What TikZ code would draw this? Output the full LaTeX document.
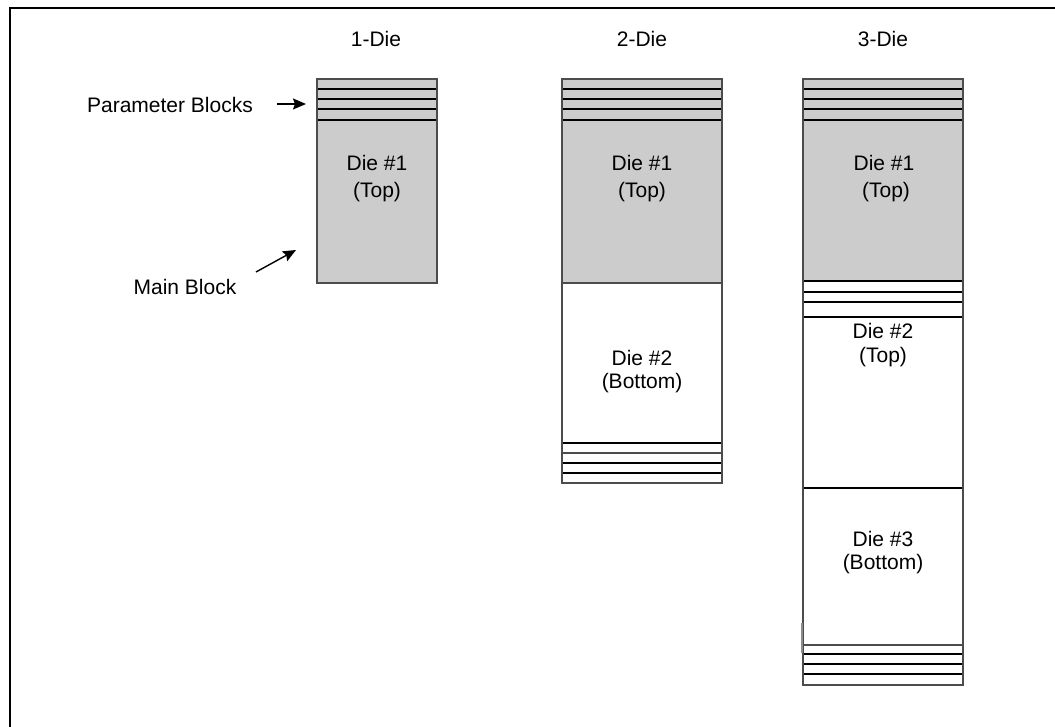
\documentclass[tikz,border=0pt]{standalone}
\usepackage{fontspec}
\setmainfont{Liberation Sans}
\usetikzlibrary{arrows.meta}
\begin{document}
\begin{tikzpicture}[x=1pt,y=-1pt,
  lbl/.style={font=\fontsize{21}{25}\selectfont, inner sep=0pt, anchor=center},
  outline/.style={draw=black!70, line width=1.3pt},
  stripe/.style={draw=black, line width=1.1pt},
  gfill/.style={fill=black!20},
  ptr/.style={-{Stealth[length=13pt,width=11pt,inset=2pt]}, line width=1.4pt}]
\useasboundingbox (0,0) rectangle (1055,727);
% frame (top and left only)
\draw[line width=2.5pt] (1055,8) -- (10,8) -- (10,727);

% ---------- 1-Die ----------
\node[lbl] (t1) at (376,39) {1-Die};
\path[gfill] (317,79) rectangle (437,283);
\foreach \y in {89,99,109,120} \draw[stripe] (317,\y) -- (437,\y);
\draw[outline] (317,79) rectangle (437,283);
\node[lbl] (d1a) at (377,163) {Die \#1};
\node[lbl] (d1b) at (377,192) {(Top)};

% labels with arrows
\node[lbl] (pb) at (170,105) {Parameter Blocks};
\coordinate (pbtail) at (277,104);
\coordinate (pbtip) at (306,104);
\draw[ptr] (pbtail) -- (pbtip);
\node[lbl] (mb) at (185,287) {Main Block};
\coordinate (mbtail) at (256,272);
\coordinate (mbtip) at (296,250);
\draw[ptr] (mbtail) -- (mbtip);

% ---------- 2-Die ----------
\node[lbl] (t2) at (642,39) {2-Die};
\path[gfill] (562,79) rectangle (722,283);
\foreach \y in {89,99,109,120} \draw[stripe] (562,\y) -- (722,\y);
\foreach \y in {443,463,473} \draw[stripe] (562,\y) -- (722,\y);
\draw[outline] (562,453) -- (722,453);
\draw[outline] (562,283) -- (722,283);
\draw[outline] (562,79) rectangle (722,483);
\node[lbl] (e1a) at (642,163) {Die \#1};
\node[lbl] (e1b) at (642,192) {(Top)};
\node[lbl] (e2a) at (642,358) {Die \#2};
\node[lbl] (e2b) at (642,383) {(Bottom)};

% ---------- 3-Die ----------
\node[lbl] (t3) at (883,39) {3-Die};
\path[gfill] (803,79) rectangle (963,281);
\foreach \y in {89,99,109,120,281,292,317,488,654,664,674} \draw[stripe] (803,\y) -- (963,\y);
\draw[stripe, line width=1.6pt] (803,302) -- (963,302);
\draw[outline] (803,645) -- (963,645);
\draw[outline] (803,79) rectangle (963,685);
\draw[draw=black!45, line width=1.2pt] (802,623) -- (802,653);
\node[lbl] (f1a) at (884,163) {Die \#1};
\node[lbl] (f1b) at (886,192) {(Top)};
\node[lbl] (f2a) at (883,331) {Die \#2};
\node[lbl] (f2b) at (883,357) {(Top)};
\node[lbl] (f3a) at (883,539) {Die \#3};
\node[lbl] (f3b) at (883,564) {(Bottom)};
\end{tikzpicture}
\end{document}
